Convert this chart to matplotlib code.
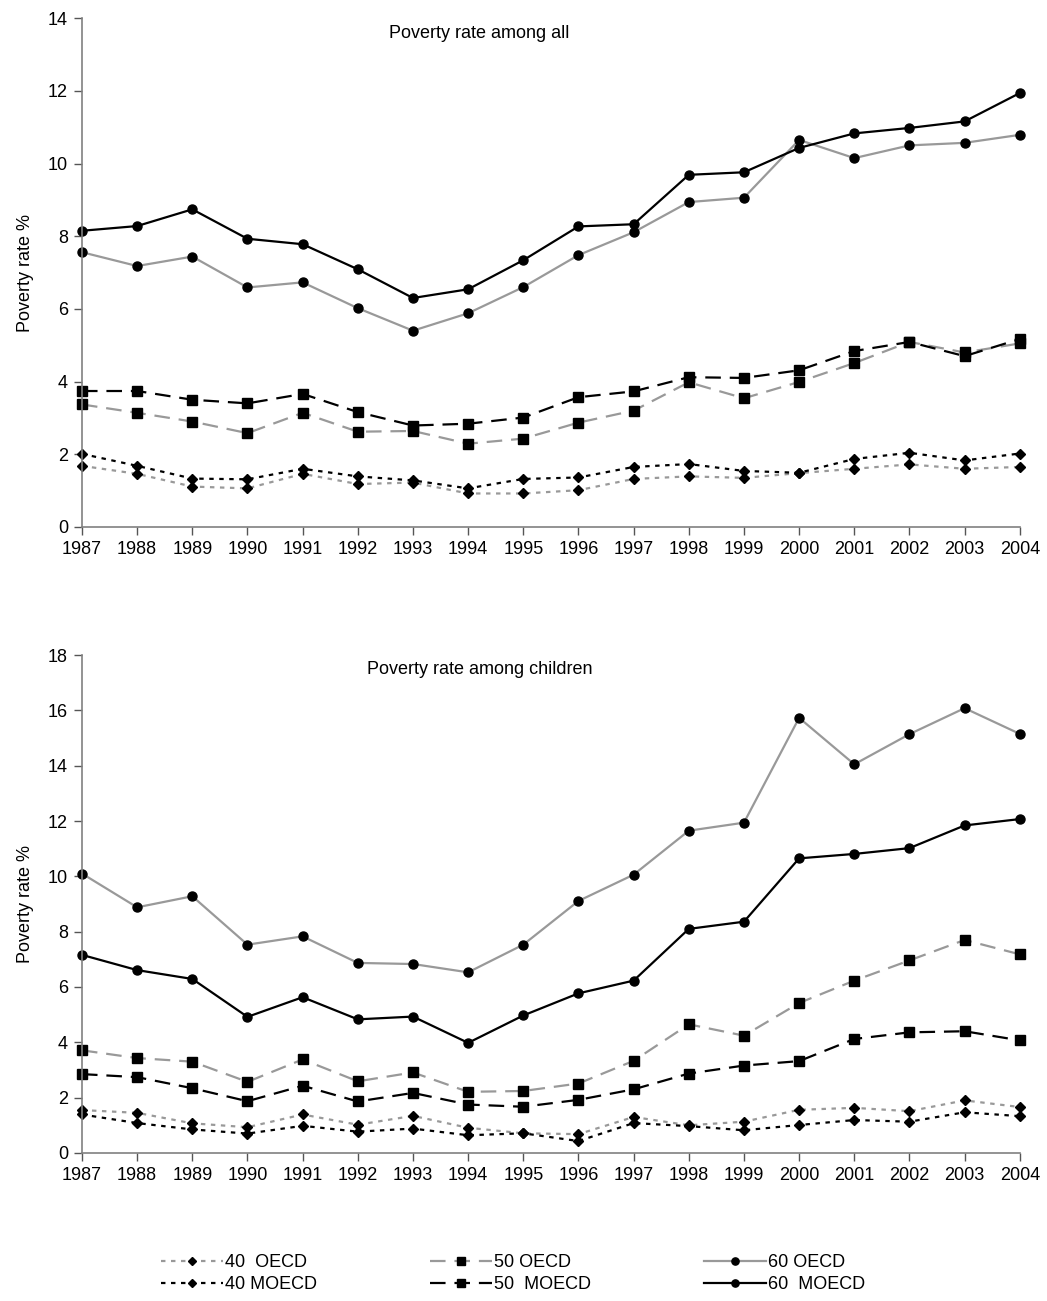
import matplotlib
matplotlib.use("Agg")
import matplotlib.pyplot as plt

plt.rcParams['font.family'] = ['Liberation Sans', 'DejaVu Sans']

years = list(range(1987, 2005))

# Poverty rate among all
all_40_oecd = [1.68, 1.46, 1.11, 1.06, 1.46, 1.18, 1.22, 0.92, 0.92, 1.01, 1.32, 1.39, 1.35, 1.48, 1.60, 1.72, 1.60, 1.65]
all_40_moecd = [2.01, 1.68, 1.33, 1.31, 1.60, 1.39, 1.28, 1.06, 1.32, 1.36, 1.65, 1.73, 1.54, 1.49, 1.87, 2.04, 1.83, 2.02]
all_50_oecd = [3.37, 3.14, 2.90, 2.58, 3.14, 2.62, 2.64, 2.29, 2.43, 2.87, 3.20, 3.98, 3.54, 3.99, 4.51, 5.09, 4.80, 5.05]
all_50_moecd = [3.74, 3.74, 3.50, 3.40, 3.66, 3.16, 2.79, 2.84, 3.01, 3.57, 3.73, 4.12, 4.10, 4.31, 4.84, 5.09, 4.70, 5.17]
all_60_oecd = [7.56, 7.18, 7.44, 6.59, 6.73, 6.02, 5.40, 5.88, 6.60, 7.48, 8.11, 8.94, 9.06, 10.65, 10.15, 10.50, 10.57, 10.79]
all_60_moecd = [8.15, 8.28, 8.74, 7.93, 7.78, 7.09, 6.30, 6.54, 7.34, 8.27, 8.33, 9.69, 9.76, 10.43, 10.83, 10.98, 11.16, 11.94]

# Poverty rate among children
ch_40_oecd = [1.55, 1.45, 1.07, 0.93, 1.39, 1.02, 1.34, 0.91, 0.71, 0.68, 1.30, 1.00, 1.13, 1.56, 1.63, 1.51, 1.90, 1.66]
ch_40_moecd = [1.39, 1.08, 0.85, 0.70, 0.98, 0.77, 0.88, 0.64, 0.71, 0.43, 1.08, 0.97, 0.82, 1.01, 1.19, 1.13, 1.47, 1.33]
ch_50_oecd = [3.71, 3.43, 3.30, 2.57, 3.38, 2.59, 2.91, 2.21, 2.24, 2.51, 3.33, 4.65, 4.24, 5.42, 6.23, 6.96, 7.70, 7.18]
ch_50_moecd = [2.85, 2.74, 2.34, 1.87, 2.43, 1.86, 2.17, 1.75, 1.67, 1.92, 2.30, 2.87, 3.16, 3.32, 4.12, 4.36, 4.40, 4.07]
ch_60_oecd = [10.10, 8.88, 9.28, 7.53, 7.83, 6.87, 6.83, 6.53, 7.53, 9.11, 10.06, 11.65, 11.94, 15.73, 14.05, 15.14, 16.08, 15.15]
ch_60_moecd = [7.16, 6.61, 6.29, 4.92, 5.63, 4.83, 4.93, 3.98, 4.97, 5.77, 6.23, 8.10, 8.36, 10.65, 10.81, 11.02, 11.84, 12.07]

labels = ["40  OECD", "40 MOECD", "50 OECD", "50  MOECD", "60 OECD", "60  MOECD"]

GRAY = "#999999"
DOT = (0, (2, 2.5))
DASH = (0, (7, 4))
styles = [
    dict(color=GRAY, linestyle=DOT, marker="D", markersize=5.5),
    dict(color="black", linestyle=DOT, marker="D", markersize=5.5),
    dict(color=GRAY, linestyle=DASH, marker="s", markersize=6.5),
    dict(color="black", linestyle=DASH, marker="s", markersize=6.5),
    dict(color=GRAY, linestyle="-", marker="o", markersize=6.5),
    dict(color="black", linestyle="-", marker="o", markersize=6.5),
]

FS = 13

fig = plt.figure(figsize=(10.47, 13.01), dpi=100)
ax1 = fig.add_axes([0.0783, 0.595, 0.8957, 0.391])
ax2 = fig.add_axes([0.0783, 0.1138, 0.8957, 0.3827])

def draw(ax, series, title, ymax):
    handles = []
    for vals, st, lab in zip(series, styles, labels):
        h, = ax.plot(years, vals, linewidth=1.6, markerfacecolor="black",
                     markeredgecolor="black", label=lab, clip_on=False, **st)
        handles.append(h)
    ax.set_xlim(1987, 2004)
    ax.set_ylim(0, ymax)
    ax.set_xticks(years)
    ax.set_yticks(range(0, ymax + 1, 2))
    for s in ["top", "right"]:
        ax.spines[s].set_visible(False)
    for s in ["left", "bottom"]:
        ax.spines[s].set_color("#808080")
        ax.spines[s].set_linewidth(1.2)
    ax.tick_params(axis="both", direction="out", length=6, width=1,
                   color="#555555", labelsize=FS, pad=4)
    ax.set_ylabel("Poverty rate %", fontsize=FS, labelpad=10)
    ax.text(0.424, 0.97, title, transform=ax.transAxes, ha="center",
            va="center", fontsize=FS)
    return handles

handles = draw(ax1, [all_40_oecd, all_40_moecd, all_50_oecd, all_50_moecd,
                     all_60_oecd, all_60_moecd], "Poverty rate among all", 14)
draw(ax2, [ch_40_oecd, ch_40_moecd, ch_50_oecd, ch_50_moecd,
           ch_60_oecd, ch_60_moecd], "Poverty rate among children", 18)

fig.legend(handles=handles, labels=labels, loc="center", ncol=3,
           bbox_to_anchor=(0.49, 0.021), frameon=False, fontsize=FS,
           handlelength=3.4, columnspacing=6.3, handletextpad=0.1,
           labelspacing=0.3, markerscale=0.8)

fig.savefig("out.png", dpi=100, facecolor="white")
